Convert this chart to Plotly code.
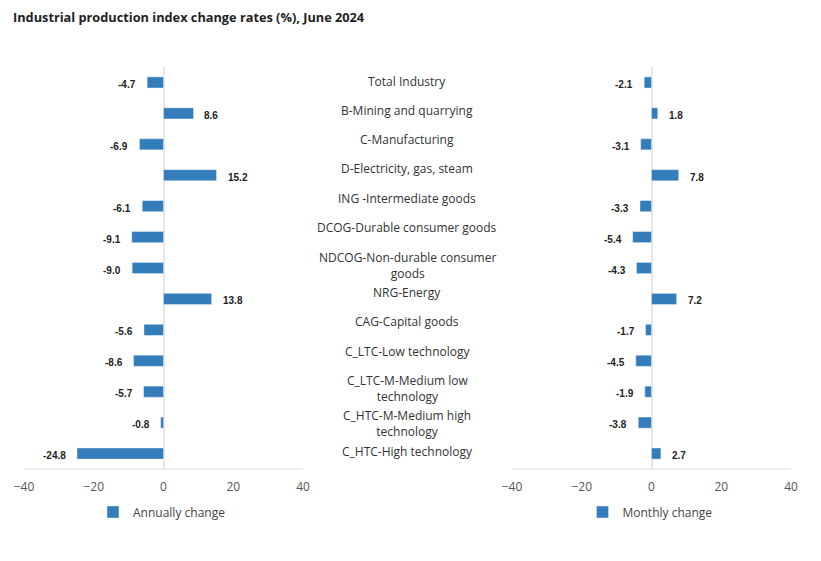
import plotly.graph_objects as go

categories = [
    "Total Industry",
    "B-Mining and quarrying",
    "C-Manufacturing",
    "D-Electricity, gas, steam",
    "ING -Intermediate goods",
    "DCOG-Durable consumer goods",
    "NDCOG-Non-durable consumer<br>goods",
    "NRG-Energy",
    "CAG-Capital goods",
    "C_LTC-Low technology",
    "C_LTC-M-Medium low<br>technology",
    "C_HTC-M-Medium high<br>technology",
    "C_HTC-High technology",
]
annual = [-4.7, 8.6, -6.9, 15.2, -6.1, -9.1, -9.0, 13.8, -5.6, -8.6, -5.7, -0.8, -24.8]
monthly = [-2.1, 1.8, -3.1, 7.8, -3.3, -5.4, -4.3, 7.2, -1.7, -4.5, -1.9, -3.8, 2.7]
tick_vals = [-40, -20, 0, 20, 40]

# label layout style: vertical nudges (px) of the centre category labels
label_nudge = [0.5, 2.5, 4.5, 6.5, 7.5, 9.5, 3, 6, 8, 9, 3.5, -1, 2.5]

BAR = "#337DBA"
OFF = 8  # page body margin
W, H = 821 - OFF, 561 - OFF


def px(p):
    return (p - OFF) / W


def py(p):
    return 1 - (p - OFF) / H


FONT = "Open Sans, Noto Sans"

fig = go.Figure()
fig.add_trace(go.Bar(y=categories, x=annual, orientation="h", name="Annually change",
                     marker_color=BAR, width=0.36, xaxis="x", yaxis="y",
                     legend="legend", showlegend=True))
fig.add_trace(go.Bar(y=categories, x=monthly, orientation="h", name="Monthly change",
                     marker_color=BAR, width=0.36, xaxis="x2", yaxis="y",
                     legend="legend2", showlegend=True))

annotations = []
for xref, vals in (("x", annual), ("x2", monthly)):
    for c, v in zip(categories, vals):
        annotations.append(dict(
            x=v, y=c, xref=xref, yref="y", text=f"<b>{v:.1f}</b>", showarrow=False,
            xanchor="left" if v >= 0 else "right", xshift=9 if v >= 0 else -9, yshift=-2,
            font=dict(family="Liberation Sans, Arial", size=10, color="#222222"),
        ))
for c, n in zip(categories, label_nudge):
    annotations.append(dict(
        x=px(407), y=c, xref="paper", yref="y", text=c, showarrow=False,
        xanchor="center", yshift=n,
        font=dict(family=FONT, size=12, color="#333333"),
    ))

axis_common = dict(
    range=[-40, 40], tickvals=tick_vals, showgrid=False, zeroline=True,
    zerolinecolor="#e6e6e6", zerolinewidth=1.5, showline=False, ticks="",
    ticklabelstandoff=9, automargin=False,
    tickfont=dict(family=FONT, size=12, color="#555555"),
    fixedrange=True,
)
ydom = [py(469), py(67)]

fig.update_layout(
    width=W, height=H,
    margin=dict(l=0, r=0, t=0, b=0, autoexpand=False),
    paper_bgcolor="white", plot_bgcolor="white",
    showlegend=True,
    title=dict(text="<b>Industrial production index change rates (%), June 2024</b>",
               x=px(13), xanchor="left", y=py(18), yanchor="middle",
               font=dict(family=FONT, size=12.75, color="#222222")),
    xaxis=dict(domain=[px(24), px(303)], anchor="y", **axis_common),
    xaxis2=dict(domain=[px(512), px(791)], anchor="y", **axis_common),
    yaxis=dict(domain=ydom, categoryorder="array", categoryarray=categories,
               autorange="reversed", showticklabels=False, showgrid=False,
               zeroline=False, showline=False, fixedrange=True, automargin=False),
    legend=dict(x=px(162), y=py(512), xanchor="center", yanchor="middle",
                orientation="h", font=dict(family=FONT, size=12, color="#444444")),
    legend2=dict(x=px(650), y=py(512), xanchor="center", yanchor="middle",
                 orientation="h", font=dict(family=FONT, size=12, color="#444444")),
    annotations=annotations,
)

shapes = []
for a, b in ((24, 303), (512, 791)):
    shapes.append(dict(type="line", xref="paper", yref="paper", x0=px(a), x1=px(b),
                       y0=ydom[0], y1=ydom[0], line=dict(color="#e6e6e6", width=1.5)))
fig.update_layout(shapes=shapes)

fig.write_html("out.html")
